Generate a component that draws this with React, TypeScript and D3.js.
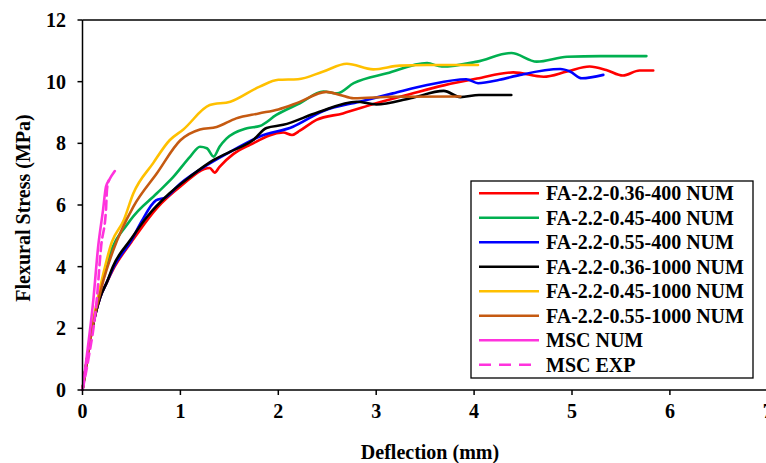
import React from "react";
import * as d3 from "d3";

type Pt = [number, number];

const xTicks = [0, 1, 2, 3, 4, 5, 6, 7];
const yTicks = [0, 2, 4, 6, 8, 10, 12];

const red036_400: Pt[] = [[0,0],[0.1,2],[0.18,3],[0.25,3.5],[0.32,3.95],[0.5,4.8],[0.76,5.9],[1.0,6.6],[1.3,7.2],[1.35,7.05],[1.4,7.24],[1.54,7.65],[1.71,7.95],[2.05,8.35],[2.14,8.27],[2.22,8.41],[2.39,8.76],[2.66,8.97],[3.0,9.3],[3.35,9.6],[3.69,9.88],[4.03,10.1],[4.4,10.3],[4.71,10.16],[4.95,10.33],[5.18,10.49],[5.35,10.38],[5.52,10.2],[5.69,10.36],[5.83,10.36]];
const green045_400: Pt[] = [[0,0],[0.1,2.05],[0.18,3.2],[0.25,4.1],[0.49,5.51],[0.76,6.38],[0.93,6.92],[1.1,7.57],[1.2,7.89],[1.27,7.84],[1.34,7.57],[1.4,7.89],[1.47,8.15],[1.68,8.49],[1.81,8.56],[1.98,8.92],[2.22,9.3],[2.46,9.68],[2.6,9.62],[2.77,9.95],[3.11,10.27],[3.52,10.6],[3.67,10.49],[4.03,10.65],[4.38,10.93],[4.64,10.65],[4.95,10.81],[5.29,10.83],[5.76,10.83]];
const blue055_400: Pt[] = [[0,0],[0.1,2],[0.18,3],[0.25,3.5],[0.32,4.0],[0.5,4.85],[0.6,5.45],[0.75,6.15],[0.85,6.25],[1.0,6.7],[1.3,7.35],[1.54,7.78],[1.81,8.22],[2.15,8.54],[2.46,9.05],[2.83,9.35],[3.17,9.62],[3.52,9.89],[3.92,10.08],[4.04,9.95],[4.26,10.06],[4.47,10.22],[4.88,10.41],[4.98,10.33],[5.1,10.11],[5.32,10.22]];
const black036_1000: Pt[] = [[0,0],[0.1,2],[0.18,3],[0.25,3.5],[0.31,4.0],[0.49,4.87],[0.66,5.62],[0.89,6.38],[1.1,6.92],[1.34,7.46],[1.51,7.73],[1.74,8.1],[1.88,8.5],[2.05,8.6],[2.4,9.0],[2.8,9.35],[3.0,9.26],[3.35,9.46],[3.69,9.7],[3.86,9.5],[4.05,9.57],[4.38,9.57]];
const yellow045_1000: Pt[] = [[0,0],[0.1,2.1],[0.2,3.6],[0.3,4.8],[0.42,5.5],[0.52,6.38],[0.72,7.35],[0.89,8.1],[1.03,8.45],[1.3,9.24],[1.51,9.35],[1.81,9.84],[2.0,10.06],[2.2,10.08],[2.46,10.33],[2.7,10.58],[2.97,10.4],[3.24,10.52],[3.52,10.54],[4.04,10.54]];
const brown055_1000: Pt[] = [[0,0],[0.1,2],[0.2,3.4],[0.31,4.5],[0.52,5.95],[0.76,7.03],[1.0,8.1],[1.2,8.45],[1.37,8.53],[1.57,8.81],[1.8,8.97],[2.0,9.1],[2.2,9.32],[2.49,9.67],[2.63,9.57],[2.77,9.46],[3.17,9.51],[3.86,9.52]];
const mscNum: Pt[] = [[0,0],[0.04,1],[0.11,2.9],[0.16,4.65],[0.21,5.84],[0.24,6.6],[0.27,6.8],[0.33,7.1]];
const mscExp: Pt[] = [[0,0],[0.06,1],[0.145,2.9],[0.19,4.65],[0.24,5.84],[0.25,6.5],[0.27,6.8]];

const seriesNames = [
  "FA-2.2-0.36-400 NUM",
  "FA-2.2-0.45-400 NUM",
  "FA-2.2-0.55-400 NUM",
  "FA-2.2-0.36-1000 NUM",
  "FA-2.2-0.45-1000 NUM",
  "FA-2.2-0.55-1000 NUM",
  "MSC NUM",
  "MSC EXP",
];
const seriesData: Pt[][] = [red036_400, green045_400, blue055_400, black036_1000, yellow045_1000, brown055_1000, mscNum, mscExp];
const seriesColors = ["#ff0000", "#00b050", "#0000ff", "#000000", "#ffc000", "#c55a11", "#ff33dd", "#ff33dd"];
const seriesDashed = [false, false, false, false, false, false, false, true];

export default function App() {
  const W = 766, H = 463;
  const x = d3.scaleLinear().domain([0, 7]).range([82.5, 767.8]);
  const y = d3.scaleLinear().domain([0, 12]).range([390, 20]);
  const line = d3.line<Pt>().x(d => x(d[0])).y(d => y(d[1])).curve(d3.curveMonotoneX);
  const font = "'Liberation Serif', 'Times New Roman', serif";
  const order = [0, 1, 2, 3, 4, 5, 6, 7];
  return (
    <svg width={W} height={H} style={{ position: "absolute", left: 0, top: 0, background: "#fff" }} fontFamily={font}>
      <rect x={0} y={0} width={W} height={H} fill="#fff" />
      {order.map(i => (
        <path key={i} d={line(seriesData[i]) || ""} fill="none" stroke={seriesColors[i]} strokeWidth={2.6}
          strokeDasharray={seriesDashed[i] ? "9,5" : undefined} strokeLinejoin="round" strokeLinecap="round" />
      ))}
      {/* axes */}
      <line x1={x(0)} x2={W} y1={y(12)} y2={y(12)} stroke="#000" strokeWidth={1.5} />
      <line x1={x(0)} x2={x(0)} y1={y(12)} y2={y(0)} stroke="#000" strokeWidth={1.5} />
      <line x1={x(0)} x2={W} y1={y(0)} y2={y(0)} stroke="#000" strokeWidth={1.5} />
      {yTicks.map(t => (
        <g key={"y" + t}>
          <line x1={x(0) - 5} x2={x(0)} y1={y(t)} y2={y(t)} stroke="#000" strokeWidth={1.5} />
          <text x={66} y={y(t)} dy="0.35em" textAnchor="end" fontSize={20} fontWeight="bold">{t}</text>
        </g>
      ))}
      {xTicks.map(t => (
        <g key={"x" + t}>
          <line x1={x(t)} x2={x(t)} y1={y(0)} y2={y(0) + 5} stroke="#000" strokeWidth={1.5} />
          <text x={x(t)} y={418} textAnchor="middle" fontSize={20} fontWeight="bold">{t}</text>
        </g>
      ))}
      <text x={430} y={459} textAnchor="middle" fontSize={20} fontWeight="bold">Deflection (mm)</text>
      <text transform="translate(23,208) rotate(-90)" dy="0.35em" textAnchor="middle" fontSize={20} fontWeight="bold">Flexural Stress (MPa)</text>
      {/* legend */}
      <rect x={471} y={181} width={282} height={197} fill="#fff" stroke="#000" strokeWidth={1.3} />
      {seriesNames.map((n, i) => {
        const cy = 193.3 + i * 24.5;
        return (
          <g key={n}>
            <line x1={479} x2={539} y1={cy} y2={cy} stroke={seriesColors[i]} strokeWidth={2.6}
              strokeDasharray={seriesDashed[i] ? "12,8" : undefined} />
            <text x={546} y={cy} dy="0.35em" fontSize={20} fontWeight="bold">{n}</text>
          </g>
        );
      })}
    </svg>
  );
}
